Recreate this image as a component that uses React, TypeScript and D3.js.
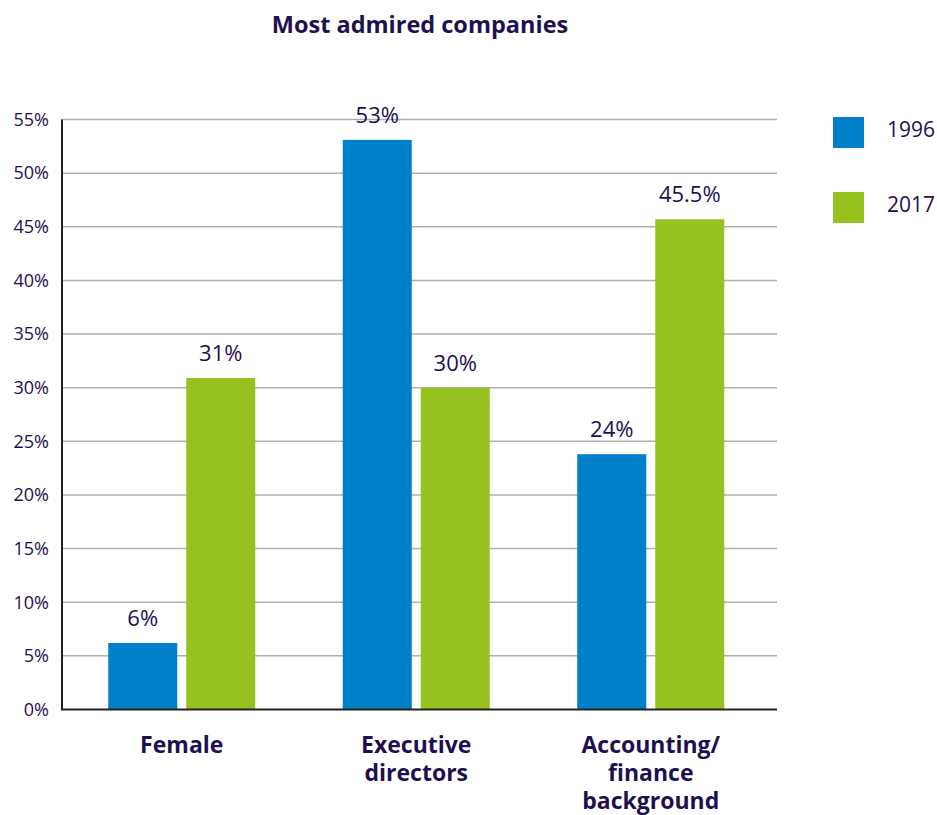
import React from "react";
import * as d3 from "d3";

const categories = ["Female", "Executive directors", "Accounting/ finance background"];
const categoryLines = [["Female"], ["Executive", "directors"], ["Accounting/", "finance", "background"]];
const seriesNames = ["1996", "2017"];
const values1996 = [6.2, 53.1, 23.8];
const values2017 = [30.9, 30.0, 45.7];
const labels1996 = ["6%", "53%", "24%"];
const labels2017 = ["31%", "30%", "45.5%"];
const yTicks = [0, 5, 10, 15, 20, 25, 30, 35, 40, 45, 50, 55];
const colors = ["#0080c8", "#97c11f"];

const W = 937;
const H = 815;
const margin = { left: 62, right: 160, top: 119.5, bottom: 105.5 };
const textColor = "#1e1050";
const font = "'Open Sans', 'Noto Sans', sans-serif";

export default function App() {
  const x0 = d3
    .scaleBand<string>()
    .domain(categories)
    .range([64.5, 768])
    .paddingInner(0)
    .paddingOuter(0);
  const groupInner = 147;
  const x1 = d3
    .scaleBand<string>()
    .domain(seriesNames)
    .range([0, groupInner])
    .paddingInner(9 / 147 * 2 / (1 + 9 / 147))
    .paddingOuter(0);
  const y = d3.scaleLinear().domain([0, 55]).range([H - margin.bottom, margin.top]);
  const series = [values1996, values2017];
  const labels = [labels1996, labels2017];
  const plotRight = W - margin.right;

  return (
    <svg width={W} height={H} style={{ display: "block", position: "absolute", left: 0, top: 0 }} fontFamily={font}>
      <rect width={W} height={H} fill="#fff" />
      <text x={420} y={33} textAnchor="middle" fontSize={23.5} fontWeight={700} fill={textColor}>
        Most admired companies
      </text>
      {yTicks.map((t) => (
        <g key={t}>
          {t > 0 && (
            <line x1={margin.left} x2={plotRight} y1={y(t)} y2={y(t)} stroke="#b0b0b0" strokeWidth={1.5} />
          )}
          <text x={49} y={y(t)} dy="0.35em" textAnchor="end" fontSize={18} fill={textColor}>
            {t}%
          </text>
        </g>
      ))}
      {categories.map((c, i) => {
        const gx = (x0(c) as number) + (x0.bandwidth() - groupInner) / 2;
        return (
          <g key={c}>
            {seriesNames.map((s, j) => {
              const v = series[j][i];
              const bx = gx + (x1(s) as number);
              return (
                <g key={s}>
                  <rect x={bx} y={y(v)} width={x1.bandwidth()} height={y(0) - y(v)} fill={colors[j]} />
                  <text x={bx + x1.bandwidth() / 2} y={y(v) - 17} textAnchor="middle" fontSize={22} fill={textColor}>
                    {labels[j][i]}
                  </text>
                </g>
              );
            })}
            <text textAnchor="middle" fontSize={23} fontWeight={700} fill={textColor}>
              {categoryLines[i].map((ln, k) => (
                <tspan key={k} x={(x0(c) as number) + x0.bandwidth() / 2} y={753 + k * 28}>
                  {ln}
                </tspan>
              ))}
            </text>
          </g>
        );
      })}
      <line x1={margin.left} x2={margin.left} y1={y(55)} y2={y(0)} stroke="#222" strokeWidth={2} />
      <line x1={margin.left - 1} x2={plotRight} y1={y(0)} y2={y(0)} stroke="#222" strokeWidth={2} />
      {seriesNames.map((s, j) => (
        <g key={s}>
          <rect x={833} y={117 + j * 75} width={31} height={31} fill={colors[j]} />
          <text x={887} y={137 + j * 75} fontSize={21} fill={textColor}>
            {s}
          </text>
        </g>
      ))}
    </svg>
  );
}
